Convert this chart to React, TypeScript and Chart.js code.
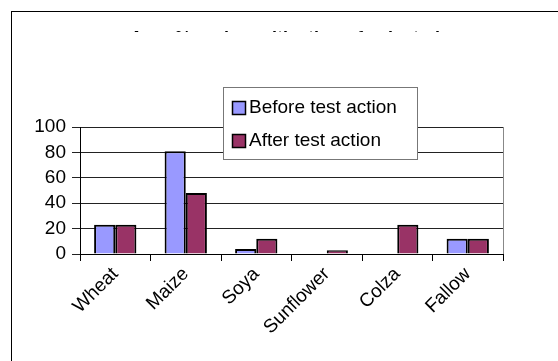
import React, { useEffect, useRef } from "react";
import { Chart, registerables } from "chart.js";

Chart.register(...registerables);

const titleText = "Area % under cultivation of selected crops";
const categories = ["Wheat", "Maize", "Soya", "Sunflower", "Colza", "Fallow"];
const beforeValues = [23, 81, 4, 0, 0, 12];
const afterValues = [23, 48, 12, 3, 23, 12];
const seriesLabels = ["Before test action", "After test action"];
const seriesColors = ["#9999FF", "#993366"];

const FONT = "Arial, 'Liberation Sans', sans-serif";

const decorPlugin = {
  id: "decor",
  beforeDraw(chart: any) {
    const ctx = chart.ctx;
    ctx.save();
    ctx.fillStyle = "#ffffff";
    ctx.fillRect(0, 0, chart.width, chart.height);
    ctx.strokeStyle = "#000000";
    ctx.lineWidth = 1;
    ctx.strokeRect(11.5, 11.5, 700, 700);
    // title (only top sliver visible as in reference)
    ctx.beginPath();
    ctx.rect(0, 30, chart.width, 2);
    ctx.clip();
    ctx.fillStyle = "#000";
    ctx.font = "bold 18px " + FONT;
    ctx.textAlign = "center";
    ctx.textBaseline = "alphabetic";
    ctx.fillText(titleText, 312, 43.5);
    ctx.restore();
  },
  afterDraw(chart: any) {
    const ctx = chart.ctx;
    const a = chart.chartArea;
    ctx.save();
    ctx.strokeStyle = "#888888";
    ctx.lineWidth = 1;
    ctx.beginPath();
    ctx.moveTo(Math.round(a.right) + 0.5, a.top);
    ctx.lineTo(Math.round(a.right) + 0.5, a.bottom);
    ctx.stroke();
    // legend
    const lx = 223, ly = 87, lw = 194, lh = 72;
    ctx.fillStyle = "#fff";
    ctx.fillRect(lx, ly, lw, lh);
    ctx.strokeStyle = "#777";
    ctx.strokeRect(lx + 0.5, ly + 0.5, lw, lh);
    ctx.font = "19px " + FONT;
    ctx.textBaseline = "alphabetic";
    ctx.textAlign = "left";
    chart.data.datasets.forEach((ds: any, i: number) => {
      const top = i === 0 ? 101 : 134;
      ctx.fillStyle = ds.backgroundColor;
      ctx.fillRect(232, top, 13, 13);
      ctx.strokeStyle = "#000";
      ctx.lineWidth = 1.5;
      ctx.strokeRect(232.5, top + 0.5, 13, 13);
      ctx.fillStyle = "#000";
      ctx.fillText(ds.label, 249, top + 12);
    });
    ctx.restore();
  },
};

export default function App() {
  const ref = useRef<HTMLCanvasElement>(null);
  useEffect(() => {
    if (!ref.current) return;
    const chart = new Chart(ref.current, {
      type: "bar",
      data: {
        labels: categories,
        datasets: [
          {
            label: seriesLabels[0],
            data: beforeValues,
            backgroundColor: seriesColors[0],
            borderColor: "#000",
            borderWidth: 2,
            categoryPercentage: 0.6,
            barPercentage: 1.0,
          },
          {
            label: seriesLabels[1],
            data: afterValues,
            backgroundColor: seriesColors[1],
            borderColor: "#000",
            borderWidth: 2,
            categoryPercentage: 0.6,
            barPercentage: 1.0,
          },
        ],
      },
      options: {
        responsive: false,
        animation: false,
        devicePixelRatio: 1,
        layout: { padding: { left: 0, right: 55, top: 127, bottom: 0 } },
        plugins: {
          legend: { display: false },
          title: { display: false },
          tooltip: { enabled: false },
        },
        scales: {
          x: {
            grid: {
              offset: true,
              drawOnChartArea: false,
              drawTicks: true,
              tickLength: 7,
              color: "#000",
            },
            border: { color: "#000", width: 1 },
            ticks: {
              minRotation: 45,
              maxRotation: 45,
              autoSkip: false,
              color: "#000",
              font: { family: FONT, size: 19 },
              padding: 2,
            },
            afterFit(scale: any) {
              scale.height = 107;
            },
          },
          y: {
            min: 0,
            max: 100,
            ticks: {
              stepSize: 20,
              autoSkip: false,
              color: "#000",
              font: { family: FONT, size: 19 },
              padding: 6,
            },
            grid: { color: "#222", tickLength: 8, drawTicks: true },
            border: { color: "#000", width: 1 },
            afterFit(scale: any) {
              scale.width = 80;
            },
          },
        },
      },
      plugins: [decorPlugin],
    });
    return () => chart.destroy();
  }, []);
  return (
    <div style={{ position: "absolute", left: 0, top: 0, width: 558, height: 361 }}>
      <canvas ref={ref} width={558} height={361} />
    </div>
  );
}
